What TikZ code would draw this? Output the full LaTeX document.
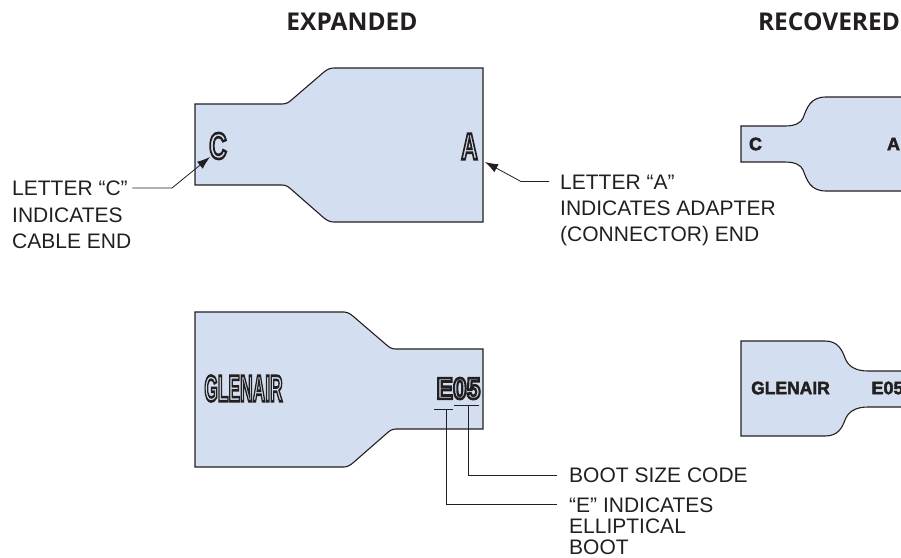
\documentclass[tikz,border=0pt]{standalone}
\usepackage{fontspec}
\setmainfont{Liberation Sans}
\newfontfamily\headfont{Open Sans}
\newfontfamily\heavyfont[BoldFeatures={FakeBold=2.5}]{Liberation Sans}
\usepackage{xcolor}
\usetikzlibrary{arrows.meta,positioning}
\definecolor{bootblue}{HTML}{D3DFF0}
\definecolor{inkgray}{HTML}{231F20}
\newcommand{\stamptext}[1]{\special{pdf:code 1 Tr 2.6 w 0.137 0.122 0.125 RG}#1\special{pdf:code 0 Tr}}
\tikzset{
  bootshape/.style={draw=inkgray,fill=bootblue,line width=1.1pt},
  headnode/.style={font=\headfont\fontsize{24.5}{26}\selectfont\bfseries,text=inkgray,inner sep=0pt},
  labelnode/.style={font=\fontsize{21}{26.7}\selectfont,text=inkgray,align=left,inner sep=0pt,anchor=north west},
  smallnode/.style={font=\fontsize{21}{21}\selectfont,text=inkgray,align=left,inner sep=0pt,anchor=north west},
  stampbig/.style={font=\fontsize{37}{37}\selectfont\bfseries,text=inkgray,inner sep=0pt},
  stampcode/.style={font=\fontsize{30}{30}\selectfont\bfseries,text=inkgray,inner sep=0pt},
  stampsmall/.style={font=\heavyfont\fontsize{18}{18}\selectfont\bfseries,text=inkgray,inner sep=0pt},
  leader/.style={draw=inkgray,line width=.8pt},
  leaderarrow/.style={leader,-{Latex[length=13pt,width=9pt]}},
}
\begin{document}
\begin{tikzpicture}[x=1pt,y=-1pt]
  \useasboundingbox (0,0) rectangle (901,557);
  \node[headnode] (headexp) at (352,22) {EXPANDED};
  \node[headnode] (headrec) at (829,22) {RECOVERED};
  % expanded boots
  \draw[bootshape] (195,104) -- (282,104) .. controls (287,104) and (289,102) .. (292,99.5)
    -- (324,72) .. controls (327,69.5) and (330,68) .. (334,68) -- (483,68) -- (483,222) -- (334,222)
    .. controls (330,222) and (327,220.5) .. (324,218) -- (292,190) .. controls (289,187.5) and (287,185) .. (282,185)
    -- (195,185) -- cycle;
  \draw[bootshape] (483,349) -- (396,349) .. controls (391,349) and (389,347) .. (386,344.5)
    -- (354,317) .. controls (351,314.5) and (348,312) .. (344,312) -- (195,312) -- (195,467) -- (344,467)
    .. controls (348,467) and (351,464.5) .. (354,462) -- (386,434) .. controls (389,431.5) and (391,429) .. (396,429)
    -- (483,429) -- cycle;
  % recovered boots
  \draw[bootshape] (741,126) -- (785,126) .. controls (795,126) and (801,123) .. (803,118)
    .. controls (807,108) and (810,97) .. (826,97) -- (905,97) -- (905,191) -- (826,191)
    .. controls (810,191) and (807,180) .. (803,170) .. controls (801,165) and (795,162) .. (785,162)
    -- (741,162) -- cycle;
  \draw[bootshape] (741,341) -- (825,341) .. controls (838,341) and (842,350) .. (845,358)
    .. controls (848,366) and (855,371) .. (868,371) -- (905,371) -- (905,407) -- (868,407)
    .. controls (855,407) and (848,412) .. (845,420) .. controls (842,428) and (838,436) .. (825,436)
    -- (741,436) -- cycle;
  % letters on the boots
  \node[stampbig,xscale=.66] (letterc) at (218,146) {\stamptext{C}};
  \node[stampbig,xscale=.62] (lettera) at (469.5,146.5) {\stamptext{A}};
  \node[stampbig,xscale=.47] (glenair) at (243.5,388.5) {\stamptext{GLENAIR}};
  \node[stampcode,xscale=.82] (code) at (458.5,388.5) {\stamptext{E05}};
  \node[stampsmall] (smallc) at (755.5,144) {C};
  \node[stampsmall] (smalla) at (893.5,144) {A};
  \node[stampsmall,xscale=.97] (smallglenair) at (790.5,388) {GLENAIR};
  \node[stampsmall] (smallcode) at (887.5,388) {E05};
  % callouts
  \node[labelnode] (labelc) at (12,180.5) {LETTER “C”\\INDICATES\\CABLE END};
  \node[labelnode,font=\fontsize{21}{26}\selectfont] (labela) at (560,174.5) {LETTER “A”\\INDICATES ADAPTER\\(CONNECTOR) END};
  \node[smallnode] (labelsize) at (569,467.5) {BOOT SIZE CODE};
  \node[smallnode] (labele) at (569,497.5) {“E” INDICATES\\ELLIPTICAL\\BOOT};
  \coordinate (elbowc) at (172,188);
  \coordinate (elbowa) at (521,181.5);
  \draw[leaderarrow] ([xshift=1pt,yshift=-7.5pt]labelc.north east) -- (elbowc) -- (210,157);
  \draw[leaderarrow] ([xshift=-11pt,yshift=-7pt]labela.north west) -- (elbowa) -- (485,162);
  \draw[leader] (434,409) -- (453,409);
  \draw[leader] (454,405) -- (479,405);
  \draw[leader] (468,405) |- ([xshift=-12pt]labelsize.west);
  \draw[leader] (446,409) |- ([xshift=-12pt,yshift=-6.5pt]labele.north west);
\end{tikzpicture}
\end{document}
